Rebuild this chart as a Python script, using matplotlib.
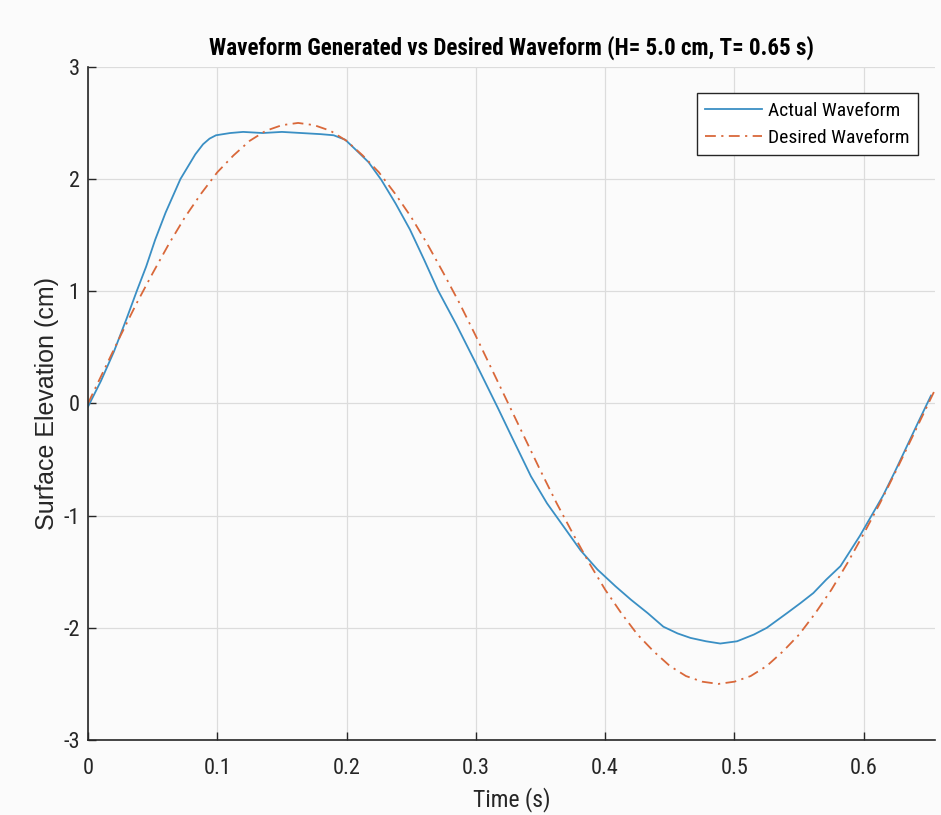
import matplotlib.pyplot as plt

# Actual waveform
t_actual = [0.000, 0.010, 0.020, 0.030, 0.038, 0.045, 0.052, 0.060, 0.0715, 0.083,
            0.089, 0.094, 0.099, 0.110, 0.120, 0.135, 0.150, 0.165, 0.180, 0.190, 0.199,
            0.209, 0.217, 0.227, 0.238, 0.249, 0.260, 0.2706, 0.285, 0.299, 0.308,
            0.317, 0.327, 0.3426, 0.355, 0.368, 0.381, 0.394, 0.408, 0.420, 0.433,
            0.445, 0.456, 0.466, 0.478, 0.489, 0.502, 0.515, 0.525, 0.5405, 0.551,
            0.561, 0.571, 0.582, 0.597, 0.606, 0.615, 0.624, 0.633, 0.642, 0.652]
eta_actual = [-0.03, 0.20, 0.46, 0.76, 1.01, 1.22, 1.46, 1.70, 2.00, 2.22,
              2.31, 2.36, 2.39, 2.41, 2.42, 2.41, 2.42, 2.41, 2.40, 2.39, 2.35,
              2.24, 2.15, 1.99, 1.78, 1.55, 1.28, 1.01, 0.70, 0.38, 0.17,
              -0.04, -0.28, -0.65, -0.89, -1.10, -1.31, -1.48, -1.63, -1.75, -1.87,
              -1.99, -2.05, -2.09, -2.12, -2.14, -2.12, -2.06, -2.00, -1.87, -1.78,
              -1.69, -1.57, -1.45, -1.18, -1.00, -0.82, -0.61, -0.39, -0.17, 0.07]

# Desired waveform
t_desired = [0.0, 0.0125, 0.025, 0.0375, 0.05, 0.0625, 0.075, 0.0875, 0.1, 0.1125,
             0.125, 0.1375, 0.15, 0.1625, 0.175, 0.1875, 0.2, 0.2125, 0.225, 0.2375,
             0.25, 0.2625, 0.275, 0.2875, 0.3, 0.3125, 0.325, 0.3375, 0.35, 0.3625,
             0.375, 0.3875, 0.4, 0.4125, 0.425, 0.4375, 0.45, 0.4625, 0.475, 0.4875,
             0.5, 0.5125, 0.525, 0.5375, 0.55, 0.5625, 0.575, 0.5875, 0.6, 0.6125,
             0.625, 0.6375, 0.65, 0.655]
eta_desired = [0.00, 0.30, 0.60, 0.89, 1.16, 1.42, 1.66, 1.87, 2.06, 2.21,
               2.34, 2.43, 2.48, 2.50, 2.48, 2.43, 2.34, 2.21, 2.06, 1.87,
               1.66, 1.42, 1.16, 0.89, 0.60, 0.30, 0.00, -0.30, -0.60, -0.89,
               -1.16, -1.42, -1.66, -1.87, -2.06, -2.21, -2.34, -2.43, -2.48, -2.50,
               -2.48, -2.43, -2.34, -2.21, -2.06, -1.87, -1.66, -1.42, -1.16, -0.89,
               -0.60, -0.30, 0.00, 0.12]

x_ticks = [0, 0.1, 0.2, 0.3, 0.4, 0.5, 0.6]
y_ticks = [-3, -2, -1, 0, 1, 2, 3]

narrow = ['Roboto Condensed', 'Liberation Sans', 'DejaVu Sans']
txt = '#262626'

fig = plt.figure(figsize=(9.41, 8.15), dpi=100, facecolor='#fbfbfb')
ax = fig.add_axes([0.0935, 0.092, 0.9, 0.826])
ax.set_facecolor('#fbfbfb')

ax.plot(t_actual, eta_actual, color='#3a8fc4', lw=1.3, label='Actual Waveform')
ax.plot(t_desired, eta_desired, color='#d9683a', lw=1.3, linestyle='-.',
        dashes=(6, 3, 1.2, 3), label='Desired Waveform')

ax.set_xlim(0, 0.655)
ax.set_ylim(-3, 3)
ax.set_xticks(x_ticks)
ax.set_yticks(y_ticks)
ax.set_xticklabels([f'{v:g}' for v in x_ticks], family=narrow, fontsize=16)
ax.set_yticklabels([f'{v:g}' for v in y_ticks], family=narrow, fontsize=16)
ax.tick_params(axis='x', direction='in', length=6, width=1, colors=txt, pad=13)
ax.tick_params(axis='y', direction='in', length=6, width=1, colors=txt, pad=6)

for s in ['top', 'right']:
    ax.spines[s].set_visible(False)
for s in ['left', 'bottom']:
    ax.spines[s].set_color(txt)
    ax.spines[s].set_linewidth(1.2)

ax.grid(True, color='#dcdcdc', lw=0.9)
ax.set_axisbelow(True)

ax.set_xlabel('Time (s)', family=narrow, fontsize=17, color=txt, labelpad=6)
ax.set_ylabel('Surface Elevation (cm)', family=['Liberation Sans', 'DejaVu Sans'],
              fontsize=18, color=txt, labelpad=3)
ax.set_title('Waveform Generated vs Desired Waveform (H= 5.0 cm, T= 0.65 s)',
             family=narrow, fontsize=16.6, fontweight='bold', pad=9)

leg = ax.legend(loc='upper right', bbox_to_anchor=(0.980, 0.961), borderaxespad=0,
                prop={'family': narrow, 'size': 14},
                fancybox=False, edgecolor=txt, framealpha=1, facecolor='white',
                handlelength=2.9, borderpad=0.45, labelspacing=0.45, handletextpad=0.3)
leg.get_frame().set_linewidth(1.0)

fig.savefig('out.png', dpi=100, facecolor=fig.get_facecolor())
